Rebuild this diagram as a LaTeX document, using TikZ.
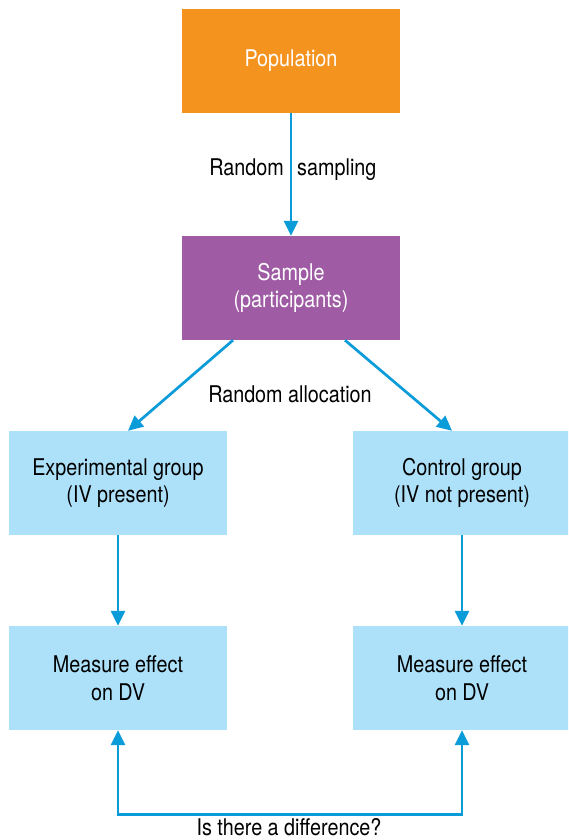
\documentclass[tikz,border=0pt]{standalone}
\usepackage{fontspec}
\setmainfont{TeX Gyre Heros}[FakeStretch=0.86]
\usetikzlibrary{arrows.meta}
\definecolor{popor}{HTML}{F5931F}
\definecolor{samppu}{HTML}{9F5CA4}
\definecolor{grpbl}{HTML}{ADE1FA}
\definecolor{arrbl}{HTML}{0A9BD9}
\tikzset{
  box/.style={rectangle, minimum width=218pt, minimum height=104pt, inner sep=0pt,
    align=center, font=\fontsize{23}{27.5}\selectfont},
  topbox/.style={box, fill=popor, text=white},
  sampbox/.style={box, fill=samppu, text=white},
  grpbox/.style={box, fill=grpbl, text=black},
  lbl/.style={inner sep=0pt, font=\fontsize{23}{27}\selectfont, text=black},
  arr/.style={draw=arrbl, line width=2.7pt, -{Triangle[length=15pt,width=14pt]}},
  arr2/.style={draw=arrbl, line width=2.7pt, {Triangle[length=15pt,width=14pt]}-{Triangle[length=15pt,width=14pt]}}
}
\begin{document}
\begin{tikzpicture}[x=1pt,y=1pt]
\useasboundingbox (0,0) rectangle (568,-840);
\begin{scope}
\clip (0,0) rectangle (568,-840);
\node[topbox]  (pop)  at (291,-61)  {Population};
\node[sampbox] (samp) at (291,-288) {Sample\\(participants)};
\node[grpbox]  (exp)  at (118,-483) {Experimental group\\(IV present)};
\node[grpbox]  (ctrl) at (462,-483) {Control group\\(IV not present)};
\node[grpbox]  (m1)   at (118,-678) {Measure effect\\on DV};
\node[grpbox]  (m2)   at (462,-678) {Measure effect\\on DV};
\end{scope}

\node[lbl, anchor=base east] (rs1) at (284,-175) {Random};
\node[lbl, anchor=base west] (rs2) at (297,-175) {sampling};
\node[lbl, anchor=base] (ra) at (290,-402) {Random allocation};
\node[lbl, anchor=base] (diff) at (289,-835.5) {Is there a difference?};

\draw[arr] (pop.south) -- (samp.north);
\draw[arr] ([xshift=-58pt]samp.south) -- ([xshift=10pt]exp.north);
\draw[arr] ([xshift=54pt]samp.south) -- ([xshift=-10pt]ctrl.north);
\draw[arr] (exp.south) -- (m1.north);
\draw[arr] (ctrl.south) -- (m2.north);
\draw[arr2] (m1.south) -- ++(0,-84) -| (m2.south);
\end{tikzpicture}
\end{document}
